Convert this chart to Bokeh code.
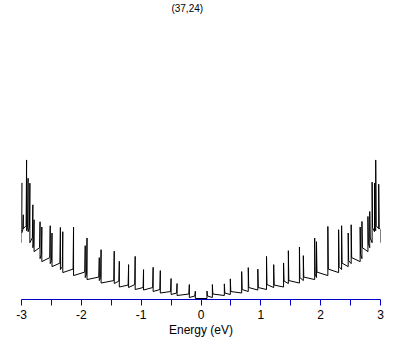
from bokeh.plotting import figure
from bokeh.models import FixedTicker, Label, Range1d
from bokeh.embed import file_html
from bokeh.resources import INLINE

title_text = "(37,24)"
x_label = "Energy (eV)"
tick_values = [-3, -2, -1, 0, 1, 2, 3]
tick_labels = ["-3", "-2", "-1", "0", "1", "2", "3"]
minor_tick_values = [-2.5, -1.5, -0.5, 0.5, 1.5, 2.5]

# van Hove singularities, E > 0 side, from the gap outward
pos_energy = [0.10, 0.19, 0.39, 0.49, 0.68, 0.79, 0.95, 1.095, 1.215, 1.38,
              1.46, 1.645, 1.71, 1.90, 1.93, 2.12, 2.30, 2.35, 2.46, 2.51,
              2.66, 2.69, 2.79, 2.82, 2.86, 2.90, 2.92, 2.97]
pos_peak = [7.5, 14, 14.7, 19.7, 27, 31, 29.5, 42.3, 34, 35.7,
            48, 51.7, 43, 60.7, 57, 72.3, 69, 73, 65.7, 74,
            71.7, 77.3, 82.3, 87.3, 116.7, 115.7, 139, 114.7]
pos_after = [2.5, 4.5, 5.5, 7, 9, 11, 11, 14, 13.5, 17.5,
             18, 21, 21.5, 24.5, 26.5, 29.5, 32, 35.5, 38, 41,
             44, 51, 55, 61, 71, 71, 73, 71]
pos_floor = [1, 3, 4, 5.5, 7, 8.5, 9, 11, 11.5, 15,
             15.5, 18, 19, 21, 23, 26, 29, 32, 35, 37,
             40, 47, 51, 56, 67, 68, 70, 69]
pos_end = 56

# van Hove singularities, E < 0 side, from the gap outward
neg_energy = [-0.095, -0.195, -0.40, -0.50, -0.68, -0.80, -0.96, -1.10, -1.21, -1.365,
              -1.45, -1.67, -1.70, -1.905, -1.935, -2.13, -2.31, -2.35, -2.49, -2.52,
              -2.66, -2.69, -2.79, -2.81, -2.86, -2.89, -2.915, -2.97, -2.995]
neg_peak = [7.3, 14, 15, 20, 28, 31.3, 29, 42.3, 34, 37.3,
            47.5, 49, 41, 60.7, 53, 71.7, 67, 71.3, 65.7, 73,
            71.7, 77, 79, 94, 115.7, 120.7, 139, 84, 116]
neg_after = [2.5, 4.5, 5.5, 7, 9, 11, 11, 14, 13.5, 17.5,
             18, 21, 21.5, 24.5, 26.5, 29.5, 32, 35.5, 38, 41,
             44, 51, 55, 61, 71, 71, 73, 69, 60]
neg_floor = [1, 3, 4, 5.5, 7, 8.5, 9, 11, 11.5, 15,
             15.5, 18, 19, 21, 23, 26, 29, 32, 35, 37,
             40, 47, 51, 56, 67, 68, 70, 66, 56]
neg_end = 56

DX = 0.008


def build(energies, peaks, afters, floors, edge, end_value, direction):
    xs, ys = [0.0], [0.0]
    prev = 0.0
    for e, pk, af, fl in zip(energies, peaks, afters, floors):
        xs += [e, e, e + direction * DX]
        ys += [prev, pk, af]
        prev = fl
    xs += [edge, edge]
    ys += [prev, end_value]
    return xs, ys


px, py = build(pos_energy, pos_peak, pos_after, pos_floor, 3.0, pos_end, 1)
nx, ny = build(neg_energy, neg_peak, neg_after, neg_floor, -3.0, neg_end, -1)
xs = nx[::-1] + px[1:]
ys = ny[::-1] + py[1:]

FONT = "Liberation Sans"

p = figure(width=405, height=339, output_backend="svg", toolbar_location=None,
           x_range=Range1d(-3, 3), y_range=Range1d(-1, 299),
           y_axis_location=None, min_border_left=21, min_border_right=25,
           min_border_top=0, min_border_bottom=0)
p.outline_line_color = None
p.grid.visible = False
p.background_fill_color = "white"
p.border_fill_color = "white"

p.line(xs, ys, line_color="black", line_width=1)

ax = p.xaxis[0]
ax.ticker = FixedTicker(ticks=tick_values, minor_ticks=minor_tick_values)
ax.major_label_overrides = {float(t): l for t, l in zip(tick_values, tick_labels)}
ax.axis_line_color = "#0000cd"
ax.major_tick_line_color = "#0000cd"
ax.minor_tick_line_color = "#0000cd"
ax.major_tick_in = 0
ax.major_tick_out = 6
ax.minor_tick_in = 0
ax.minor_tick_out = 6
ax.major_label_standoff = 4
ax.major_label_text_font = FONT
ax.major_label_text_font_size = "12px"
ax.major_label_text_color = "black"
ax.axis_label = x_label
ax.axis_label_text_font = FONT
ax.axis_label_text_font_size = "12px"
ax.axis_label_text_font_style = "normal"
ax.axis_label_text_color = "black"
ax.axis_label_standoff = 1

p.add_layout(Label(x=-0.23, y=299, text=title_text, text_align="center",
                   text_baseline="top", text_font=FONT, y_offset=-2,
                   text_font_size="10px", text_color="black"))

open("out.html", "w").write(file_html(p, INLINE))
